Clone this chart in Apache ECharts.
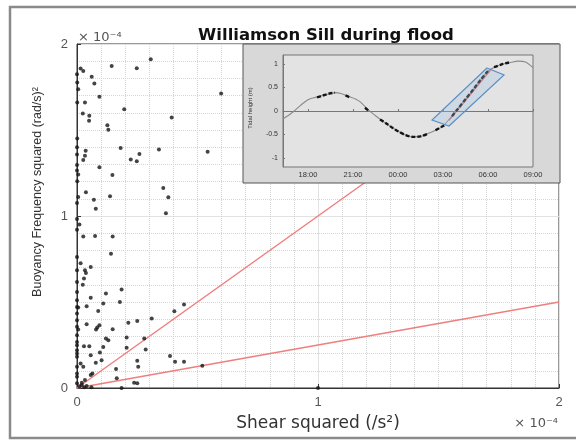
<!DOCTYPE html>
<html>
<head>
<meta charset="utf-8">
<script src="https://cdn.jsdelivr.net/npm/echarts@6/dist/echarts.min.js"></script>
<style>html,body{margin:0;padding:0;background:#fff}#c{width:576px;height:440px}</style>
</head>
<body>
<div id="c"></div>
<script>
// ---- Main scatter data (units of 1e-4) ----
const shearSq = [
0.306,0.144,0.248,0.015,0.026,0.0,0.061,0.001,0.072,0.005,0.598,0.093,0.001,0.033,0.196,0.024,0.051,0.393,0.05,0.126,
0.13,0.001,0.0,0.181,0.34,0.036,0.542,0.033,0.0,0.259,0.223,0.248,0.026,0.0,0.093,0.0,0.005,0.147,0.001,0.358,
0.037,0.137,0.379,0.005,0.07,0.0,0.078,0.369,0.0,0.01,0.0,
0.026,0.075,0.148,0.141,0.015,0.057,0.033,0.037,0.029,0.024,0.185,0.12,0.057,0.178,0.109,0.444,0.04,0.005,0.088,0.404,
0.31,0.25,0.213,0.04,0.093,0.084,0.148,0.079,0.005,0.12,0.13,0.206,0.279,0.029,0.051,0.109,0.206,0.285,0.095,0.057,
0.386,0.407,0.444,0.25,0.102,0.078,0.015,0.026,0.52,0.254,0.162,0.064,0.057,0.165,0.033,0.237,0.25,0.02,0.185,1.0,
0.0,0.0,0.0,0.0,0.0,0.0,0.0,0.0,0.0,0.0,0.0,0.0,0.0,0.0,0.0,0.0,0.0,0.0,0.0,
0.01,0.03,0.02,0.04,0.06
];
const buoySq = [
1.911,1.872,1.859,1.857,1.843,1.824,1.81,1.776,1.77,1.737,1.712,1.693,1.66,1.66,1.62,1.596,1.583,1.573,1.554,1.528,
1.501,1.451,1.399,1.395,1.386,1.38,1.374,1.351,1.357,1.36,1.328,1.318,1.326,1.297,1.283,1.264,1.241,1.239,1.202,1.163,
1.138,1.115,1.109,1.11,1.094,1.076,1.042,1.016,0.983,0.95,0.92,
0.881,0.883,0.881,0.781,0.726,0.703,0.684,0.668,0.636,0.601,0.572,0.549,0.525,0.5,0.491,0.485,0.475,0.468,0.448,0.446,
0.404,0.39,0.379,0.371,0.365,0.352,0.342,0.34,0.34,0.288,0.278,0.294,0.288,0.243,0.243,0.239,0.234,0.224,0.207,0.191,
0.186,0.153,0.153,0.158,0.162,0.147,0.143,0.123,0.129,0.123,0.11,0.085,0.075,0.056,0.046,0.031,0.027,0.017,0.0,0.0,
0.761,0.684,0.616,0.558,0.51,0.471,0.433,0.394,0.356,0.307,0.268,0.249,0.22,0.201,0.182,0.123,0.085,0.066,0.027,
0.01,0.005,0.03,0.012,0.004
];
// Richardson number reference lines (Ri = 1 and Ri = 0.25)
const riOneLine = [[0,0],[2,2]];
const riQuarterLine = [[0,0],[2,0.5]];

// ---- Inset tidal data (hours, 24 = 00:00) ----
const tideHours  = [16.33,17,17.5,18,18.5,19,19.5,19.8,20.2,20.7,21.2,21.5,22,22.5,23,23.5,24,24.5,25,25.5,26,26.5,27,27.5,28,28.5,29,29.5,30,30.5,31,31.5,32,32.5,33];
const tideHeight = [-0.17,-0.02,0.12,0.24,0.29,0.33,0.37,0.39,0.37,0.31,0.25,0.19,0.03,-0.1,-0.22,-0.33,-0.43,-0.51,-0.55,-0.54,-0.48,-0.41,-0.32,-0.14,0.05,0.25,0.45,0.66,0.85,0.94,1.0,1.03,1.06,1.04,0.92];
const obsHours  = [18.6,19.0,19.4,19.8,null,20.5,20.8,null,21.8,22.1,null,22.8,23.2,23.6,24.0,24.5,25.0,25.5,26.0,null,26.5,27.0,27.2,null,27.6,28.0,28.5,29.0,29.5,30.0,null,30.4,31.0,31.4];
const obsHeight = [0.29,0.33,0.37,0.39,null,0.33,0.29,null,0.07,-0.01,null,-0.18,-0.26,-0.35,-0.43,-0.51,-0.55,-0.54,-0.48,null,-0.41,-0.32,-0.28,null,-0.11,0.05,0.25,0.45,0.66,0.85,null,0.93,1.0,1.03];
const fitLine = [[27.4,-0.2],[30.2,0.88]];
const boxCorners = [[29.93,0.915],[31.07,0.766],[27.4,-0.32],[26.27,-0.19]];
const insetXTicks = [18,21,24,27,30,33];
const insetYTicks = [-1,-0.5,0,0.5,1];

const FF = 'Liberation Sans, Arial, sans-serif';
const FW = 'DejaVu Sans, sans-serif';
const chart = echarts.init(document.getElementById('c'), null, {renderer:'canvas'});

const scatterData = shearSq.map((x,i)=>[x,buoySq[i]]);
const tideData = tideHours.map((h,i)=>[h,tideHeight[i]]);
const obsData = obsHours.map((h,i)=> h===null ? [null,null] : [h,obsHeight[i]]);

const option = {
  animation:false,
  backgroundColor:'#ffffff',
  title:{text:'Williamson Sill during flood', left:321, top:22, textAlign:'center',
    textStyle:{fontFamily:FW, fontWeight:'bold', fontSize:16.5, color:'#111'}},
  grid:[
    {left:77, top:44, width:482, height:344, show:true, borderColor:'#333', borderWidth:1},
    {left:283, top:55, width:250, height:112, show:true, backgroundColor:'#e3e3e3', borderColor:'#777', borderWidth:1, zlevel:1, z:1}
  ],
  xAxis:[
    {gridIndex:0, type:'value', min:0, max:2, interval:1,
     axisLine:{lineStyle:{color:'#333'}},
     axisTick:{inside:true, length:4, lineStyle:{color:'#333'}},
     axisLabel:{color:'#555', fontSize:13, margin:8, fontFamily:FF},
     splitLine:{show:true, lineStyle:{color:'#e2e2e2'}},
     minorTick:{show:false, splitNumber:10},
     minorSplitLine:{show:true, lineStyle:{color:'#d4d4d4', type:'dotted'}}},
    {gridIndex:1, type:'value', min:16.333, max:33, zlevel:1, z:2,
     axisLine:{lineStyle:{color:'#777'}},
     axisTick:{show:true, inside:true, length:2, customValues:insetXTicks, lineStyle:{color:'#777'}},
     axisLabel:{customValues:insetXTicks, showMaxLabel:true, showMinLabel:true, fontSize:7.5, color:'#333', margin:4, fontFamily:FF,
       formatter:v=>String(Math.round(v)%24).padStart(2,'0')+':00'},
     splitLine:{show:false}}
  ],
  yAxis:[
    {gridIndex:0, type:'value', min:0, max:2, interval:1,
     axisLine:{lineStyle:{color:'#333'}},
     axisTick:{inside:true, length:4, lineStyle:{color:'#333'}},
     axisLabel:{color:'#555', fontSize:13, margin:9, fontFamily:FF},
     splitLine:{show:true, lineStyle:{color:'#e2e2e2'}},
     minorTick:{show:false, splitNumber:10},
     minorSplitLine:{show:true, lineStyle:{color:'#d4d4d4', type:'dotted'}}},
    {gridIndex:1, type:'value', min:-1.19, max:1.19, zlevel:1, z:2,
     axisLine:{lineStyle:{color:'#777'}},
     axisTick:{show:true, inside:true, length:2, customValues:insetYTicks, lineStyle:{color:'#777'}},
     axisLabel:{customValues:insetYTicks, fontSize:7, color:'#333', margin:5, fontFamily:FF},
     splitLine:{show:false}}
  ],
  graphic:[
    {type:'rect', shape:{x:10, y:7, width:600, height:431}, style:{fill:'none', stroke:'#8a8a8a', lineWidth:2.5}, z:0, silent:true},
    {type:'rect', shape:{x:243, y:44, width:317, height:139}, style:{fill:'#d8d8d8', stroke:'#555', lineWidth:1}, zlevel:1, z:0, silent:true},
    {type:'text', x:78, y:38, style:{text:'× 10⁻⁴', fontSize:13, fontFamily:FW, fill:'#555', align:'left', verticalAlign:'middle'}},
    {type:'text', x:558, y:424, style:{text:'× 10⁻⁴', fontSize:13, fontFamily:FW, fill:'#555', align:'right', verticalAlign:'middle'}},
    {type:'text', x:318, y:424, style:{text:'Shear squared (/s²)', fontSize:17, fontFamily:FW, fill:'#333', align:'center', verticalAlign:'middle'}},
    {type:'text', x:38, y:192, rotation:Math.PI/2, style:{text:'Buoyancy Frequency squared (rad/s)²', fontSize:12.5, fontFamily:FF, fill:'#333', align:'center', verticalAlign:'middle'}},
    {type:'text', x:250, y:108, rotation:Math.PI/2, zlevel:1, z:50, style:{text:'Tidal height (m)', fontSize:6, fontFamily:FF, fill:'#333', align:'center', verticalAlign:'middle'}}
  ],
  series:[
    {type:'line', xAxisIndex:0, yAxisIndex:0, data:riOneLine, symbol:'none', lineStyle:{color:'#ee7f7f', width:1.5}, z:2},
    {type:'line', xAxisIndex:0, yAxisIndex:0, data:riQuarterLine, symbol:'none', lineStyle:{color:'#ee7f7f', width:1.5}, z:2},
    {type:'scatter', xAxisIndex:0, yAxisIndex:0, data:scatterData, symbol:'circle', symbolSize:4, itemStyle:{color:'#151515'}, z:3},
    {type:'line', xAxisIndex:1, yAxisIndex:1, data:tideData, symbol:'none', smooth:0.3, lineStyle:{color:'#8a8a8a', width:1.1}, zlevel:1, z:3},
    {type:'line', xAxisIndex:1, yAxisIndex:1, data:fitLine, symbol:'none', lineStyle:{color:'#e06666', width:1.2}, zlevel:1, z:4},
    {type:'line', xAxisIndex:1, yAxisIndex:1, data:obsData, symbol:'none', smooth:0.3, connectNulls:false, lineStyle:{color:'#151515', width:2.4, type:[4,2]}, zlevel:1, z:5},
    {type:'custom', xAxisIndex:1, yAxisIndex:1, data:[[0]], zlevel:1, z:6, silent:true,
     renderItem:(params, api)=>({type:'polygon', shape:{points:boxCorners.map(p=>api.coord(p))},
       style:{fill:'rgba(160,195,230,0.3)', stroke:'#5b8fc6', lineWidth:1.2}})}
  ]
};
chart.setOption(option);
</script>
</body>
</html>
